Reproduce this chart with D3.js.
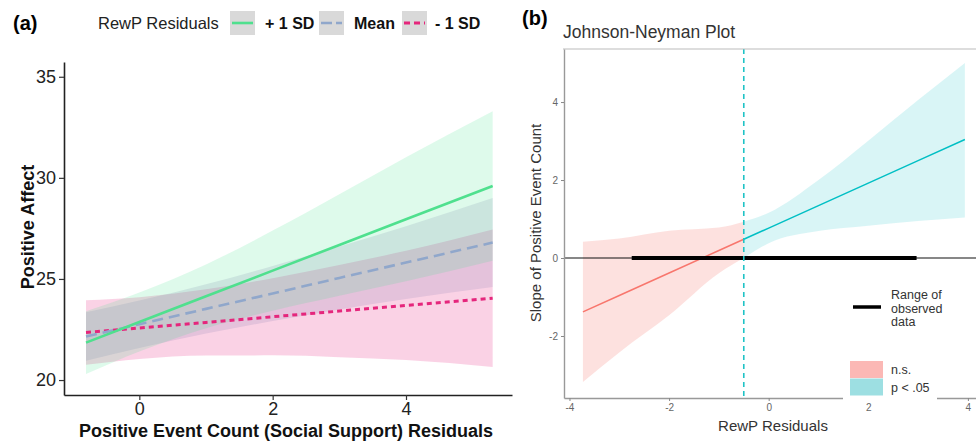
<!DOCTYPE html>
<html>
  <head>
    <meta charset="utf-8">
    <title></title>
    <script src="https://cdn.jsdelivr.net/npm/d3@7"></script>
    <style media="screen">
    body {margin:0; background:#fff;}
    text {font-family:"Liberation Sans", Arial, sans-serif;}
    </style>
  </head>
  <body>
    <svg id="svg1" width="976" height="442"></svg>
    <script>
    // (a) simple slopes
    var xsA = [-0.8, 0, 1, 2, 3, 4, 5.3];
    var hiLine = [21.85, 22.87, 24.14, 25.41, 26.68, 27.95, 29.6];
    var hiLow  = [20.30, 21.41, 22.56, 23.43, 24.17, 24.88, 25.90];
    var hiUp   = [23.40, 24.33, 25.72, 27.39, 29.19, 31.02, 33.30];
    var meanLine = [22.15, 22.76, 23.52, 24.28, 25.05, 25.81, 26.80];
    var meanLow  = [20.95, 21.59, 22.30, 22.92, 23.49, 24.01, 24.60];
    var meanUp   = [23.35, 23.93, 24.74, 25.64, 26.61, 27.61, 29.00];
    var loLine = [22.35, 22.57, 22.85, 23.13, 23.41, 23.69, 24.05];
    var loLow  = [20.75, 21.04, 21.21, 21.22, 21.13, 20.99, 20.65];
    var loUp   = [23.95, 24.10, 24.49, 25.04, 25.69, 26.39, 27.45];
    var groupsA = ['+ 1 SD', 'Mean', '- 1 SD'];
    var xTicksA = [0, 2, 4];
    var yTicksA = [20, 25, 30, 35];

    // (b) Johnson-Neyman
    var xsNs = [-3.73, -3, -2, -1, -0.5];
    var nsLine = [-1.38, -0.96, -0.384, 0.192, 0.48];
    var nsLow  = [-3.18, -2.42, -1.47, -0.39, 0.0];
    var nsUp   = [0.42, 0.50, 0.70, 0.78, 0.93];
    var xsSig = [-0.5, 0, 1, 2, 3, 3.94];
    var sigLine = [0.48, 0.768, 1.344, 1.92, 2.496, 3.04];
    var sigLow  = [0.0, 0.38, 0.69, 0.83, 0.95, 1.04];
    var sigUp   = [0.93, 1.16, 2.00, 3.01, 4.05, 5.00];
    var jnPoint = -0.5;
    var observedRange = [-2.75, 2.97];
    var xTicksB = [-4, -2, 0, 2, 4];
    var yTicksB = [-2, 0, 2, 4];

    var svg = d3.select('#svg1');
    var plain = function(d){ return String(d); };

    // ---------- panel a ----------
    var xA = d3.scaleLinear().domain([-1.13, 5.59]).range([64, 512]);
    var yA = d3.scaleLinear().domain([19.26, 35.73]).range([395, 62]);

    var seriesA = [
      {name: groupsA[2], line: loLine, low: loLow, up: loUp, col: '#e5267c', fill: '#f06aa8', op: 0.3, dash: '5,4', w: 3},
      {name: groupsA[1], line: meanLine, low: meanLow, up: meanUp, col: '#90a7cb', fill: '#8a84b6', op: 0.2, dash: '11,6', w: 2.6},
      {name: groupsA[0], line: hiLine, low: hiLow, up: hiUp, col: '#4fe08e', fill: '#3ee08a', op: 0.17, dash: null, w: 2.6}
    ];

    var areaA = d3.area()
      .x(function(d){ return xA(d.x); })
      .y0(function(d){ return yA(d.lo); })
      .y1(function(d){ return yA(d.hi); })
      .curve(d3.curveMonotoneX);
    var lineA = d3.line()
      .x(function(d){ return xA(d.x); })
      .y(function(d){ return yA(d.y); });

    seriesA.forEach(function(s){
      var pts = xsA.map(function(x, i){ return {x: x, lo: s.low[i], hi: s.up[i]}; });
      svg.append('path').attr('d', areaA(pts)).attr('fill', s.fill).attr('fill-opacity', s.op);
    });
    seriesA.forEach(function(s){
      var pts = xsA.map(function(x, i){ return {x: x, y: s.line[i]}; });
      svg.append('path').attr('d', lineA(pts)).attr('fill', 'none')
        .attr('stroke', s.col).attr('stroke-width', s.w)
        .attr('stroke-dasharray', s.dash);
    });

    var gy = svg.append('g').attr('transform', 'translate(64,0)')
      .call(d3.axisLeft(yA).tickValues(yTicksA).tickFormat(plain).tickSize(5).tickPadding(3).tickSizeOuter(0));
    var gx = svg.append('g').attr('transform', 'translate(0,395)')
      .call(d3.axisBottom(xA).tickValues(xTicksA).tickFormat(plain).tickSize(5).tickPadding(2).tickSizeOuter(0));
    [gx, gy].forEach(function(g){
      g.select('.domain').attr('stroke', '#222').attr('stroke-width', 1.6);
      g.selectAll('.tick line').attr('stroke', '#333').attr('stroke-width', 1.2);
      g.selectAll('.tick text').attr('font-size', 18).attr('fill', '#222')
        .attr('font-family', '"Liberation Sans", Arial, sans-serif');
    });

    svg.append('text').attr('x', 286).attr('y', 437).attr('text-anchor', 'middle')
      .attr('font-size', 18).attr('font-weight', 'bold').attr('fill', '#111')
      .text('Positive Event Count (Social Support) Residuals');
    svg.append('text').attr('transform', 'translate(34,227) rotate(-90)').attr('text-anchor', 'middle')
      .attr('font-size', 18).attr('font-weight', 'bold').attr('fill', '#111')
      .text('Positive Affect');

    svg.append('text').attr('x', 13).attr('y', 30).attr('font-size', 20).attr('font-weight', 'bold').text('(a)');

    // legend a
    svg.append('text').attr('x', 98).attr('y', 29).attr('font-size', 16.5).attr('fill', '#222').text('RewP Residuals');
    var keyX = [230, 319, 402];
    var labX = [265, 354, 435];
    var legOrder = [seriesA[2], seriesA[1], seriesA[0]];
    legOrder.forEach(function(s, i){
      svg.append('rect').attr('x', keyX[i]).attr('y', 11).attr('width', 25).attr('height', 24).attr('fill', '#d9d9d9');
      svg.append('line').attr('x1', keyX[i] + 2).attr('x2', keyX[i] + 23).attr('y1', 23).attr('y2', 23)
        .attr('stroke', s.col).attr('stroke-width', s.w)
        .attr('stroke-dasharray', s.dash ? (i == 1 ? '11,4' : '6,4') : null);
      svg.append('text').attr('x', labX[i]).attr('y', 29).attr('font-size', 16).attr('font-weight', 'bold')
        .attr('fill', '#111').text(s.name);
    });

    // ---------- panel b ----------
    var xB = d3.scaleLinear().domain([-4.11, 4.163]).range([564, 976]);
    var yB = d3.scaleLinear().domain([-3.59, 5.36]).range([398, 49]);

    var areaB = d3.area()
      .x(function(d){ return xB(d.x); })
      .y0(function(d){ return yB(d.lo); })
      .y1(function(d){ return yB(d.hi); })
      .curve(d3.curveMonotoneX);
    var lineB = d3.line()
      .x(function(d){ return xB(d.x); })
      .y(function(d){ return yB(d.y); });

    var partsB = [
      {xs: xsNs, line: nsLine, low: nsLow, up: nsUp, col: '#F8766D', op: 0.22},
      {xs: xsSig, line: sigLine, low: sigLow, up: sigUp, col: '#00BFC4', op: 0.15}
    ];
    partsB.forEach(function(p){
      var pts = p.xs.map(function(x, i){ return {x: x, lo: p.low[i], hi: p.up[i]}; });
      svg.append('path').attr('d', areaB(pts)).attr('fill', p.col).attr('fill-opacity', p.op);
    });

    // zero line
    svg.append('line').attr('x1', 564).attr('x2', 976).attr('y1', yB(0)).attr('y2', yB(0))
      .attr('stroke', '#111').attr('stroke-width', 1.2);

    partsB.forEach(function(p){
      var pts = p.xs.map(function(x, i){ return {x: x, y: p.line[i]}; });
      svg.append('path').attr('d', lineB(pts)).attr('fill', 'none')
        .attr('stroke', p.col).attr('stroke-width', 1.5);
    });

    // range of observed data
    svg.append('line').attr('x1', xB(observedRange[0])).attr('x2', xB(observedRange[1]))
      .attr('y1', yB(0)).attr('y2', yB(0)).attr('stroke', '#000').attr('stroke-width', 4);

    // J-N point
    svg.append('line').attr('x1', xB(jnPoint)).attr('x2', xB(jnPoint)).attr('y1', 49).attr('y2', 398)
      .attr('stroke', '#1fc3c6').attr('stroke-width', 1.6).attr('stroke-dasharray', '5,4');

    // frame
    svg.append('line').attr('x1', 563).attr('x2', 976).attr('y1', 49).attr('y2', 49)
      .attr('stroke', '#bbb').attr('stroke-width', 1.2);
    var gyB = svg.append('g').attr('transform', 'translate(564,0)')
      .call(d3.axisLeft(yB).tickValues(yTicksB).tickFormat(plain).tickSize(3).tickPadding(3).tickSizeOuter(0));
    var gxB = svg.append('g').attr('transform', 'translate(0,398)')
      .call(d3.axisBottom(xB).tickValues(xTicksB).tickFormat(plain).tickSize(3).tickPadding(3).tickSizeOuter(0));
    [gxB, gyB].forEach(function(g){
      g.select('.domain').attr('stroke', '#999').attr('stroke-width', 1.4);
      g.selectAll('.tick line').attr('stroke', '#888');
      g.selectAll('.tick text').attr('font-size', 10).attr('fill', '#666')
        .attr('font-family', '"Liberation Sans", Arial, sans-serif');
    });

    svg.append('text').attr('x', 773).attr('y', 431).attr('text-anchor', 'middle')
      .attr('font-size', 15).attr('fill', '#333').text('RewP Residuals');
    svg.append('text').attr('transform', 'translate(541,223) rotate(-90)').attr('text-anchor', 'middle')
      .attr('font-size', 15).attr('fill', '#333').text('Slope of Positive Event Count');
    svg.append('text').attr('x', 563).attr('y', 38).attr('font-size', 17.5).attr('fill', '#333').text('Johnson-Neyman Plot');
    svg.append('text').attr('x', 522).attr('y', 25).attr('font-size', 20).attr('font-weight', 'bold').text('(b)');

    // legend b
    svg.append('rect').attr('x', 843).attr('y', 280).attr('width', 94).attr('height', 121).attr('fill', '#fff');
    svg.append('line').attr('x1', 853).attr('x2', 881).attr('y1', 307).attr('y2', 307)
      .attr('stroke', '#000').attr('stroke-width', 3.5);
    ['Range of', 'observed', 'data'].forEach(function(t, i){
      svg.append('text').attr('x', 891).attr('y', 299 + i * 13.5).attr('font-size', 12.5).attr('fill', '#333').text(t);
    });
    var keysB = [{lab: 'n.s.', col: '#fbb8b5'}, {lab: 'p < .05', col: '#9ddfe2'}];
    keysB.forEach(function(k, i){
      svg.append('rect').attr('x', 850).attr('y', 361 + i * 17.5).attr('width', 33).attr('height', 17)
        .attr('fill', k.col);
      svg.append('text').attr('x', 891).attr('y', 374 + i * 17.5).attr('font-size', 12.5).attr('fill', '#333').text(k.lab);
    });
    </script>
  </body>
</html>
